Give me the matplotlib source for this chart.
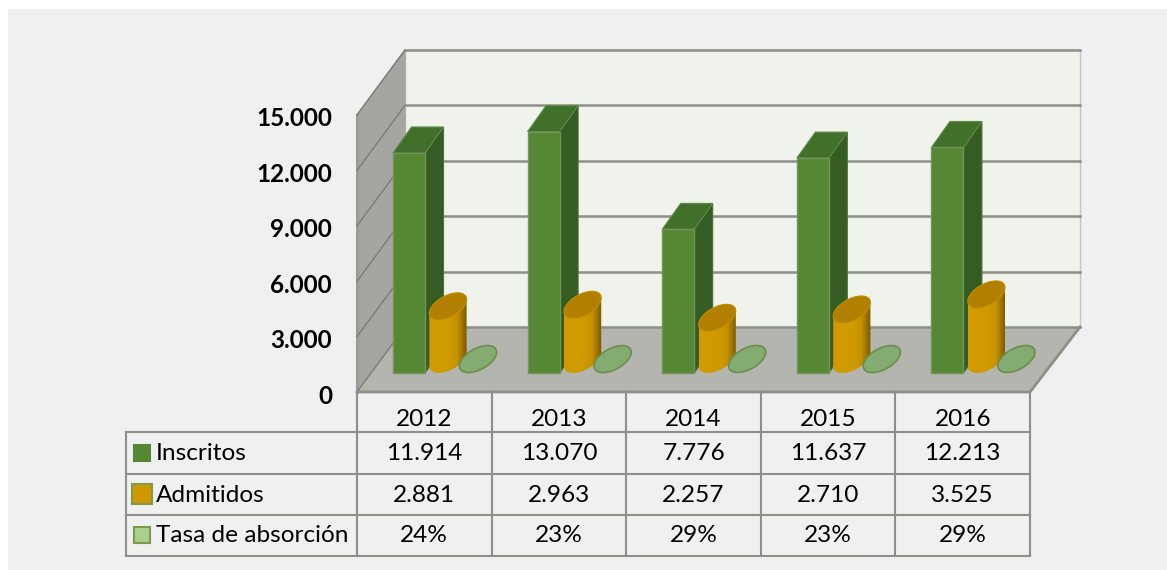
import numpy as np
import matplotlib
matplotlib.use('Agg')
import matplotlib.pyplot as plt
from matplotlib.colors import LinearSegmentedColormap
from matplotlib.patches import Polygon, Rectangle

plt.rcParams['font.family'] = ['Lato', 'DejaVu Sans']

# Datos
anios = ['2012', '2013', '2014', '2015', '2016']
inscritos = [11914, 13070, 7776, 11637, 12213]
admitidos = [2881, 2963, 2257, 2710, 3525]
tasa = [24, 23, 29, 23, 29]
ticks_y = [0, 3000, 6000, 9000, 12000, 15000]
series = ['Inscritos', 'Admitidos', 'Tasa de absorción']

# Geometria del grafico 3D (en pixeles de la imagen)
Y0 = 392
ESCALA = 277 / 15000
X_IZQ = 357
X_DER = 1030
ANCHO_CAT = (X_DER - X_IZQ) / len(anios)
DX, DY = 48, -65
FILAS_Y = [432, 474, 515, 556]
X_TABLA = 126
A_ELIPSE, B_ELIPSE, H_ELIPSE = 16, 9.5, 13.5


def y_px(valor):
    return Y0 - valor * ESCALA


def elipse(cx, cy, t=None):
    # elipse inscrita en el plano del suelo, inclinada por la perspectiva
    if t is None:
        t = np.linspace(0, 2 * np.pi, 60)
    x = cx + A_ELIPSE * np.cos(t) + B_ELIPSE * np.sin(t)
    y = cy - H_ELIPSE * np.sin(t)
    return np.column_stack([x, y])


fig = plt.figure(figsize=(11.67, 5.7), dpi=100, facecolor='white')
ax = fig.add_axes([0, 0, 1, 1])
ax.set_xlim(0, 1167)
ax.set_ylim(570, 0)
ax.axis('off')

# Fondo
ax.add_patch(Rectangle((8, 9), 1159, 561, fc='#f0f0f0', ec='none', zorder=0))

gris = '#8f8f8a'
# Pared del fondo
y_top = y_px(ticks_y[-1]) + DY
ax.add_patch(Polygon([(X_IZQ + DX, y_top), (X_DER + DX + 2, y_top),
                      (X_DER + DX + 2, Y0 + DY), (X_IZQ + DX, Y0 + DY)],
                     fc='#f0f2ec', ec='#c4c4c4', lw=1, zorder=1))
# Pared izquierda
ax.add_patch(Polygon([(X_IZQ, y_px(15000)), (X_IZQ + DX, y_top),
                      (X_IZQ + DX, Y0 + DY), (X_IZQ, Y0)],
                     fc='#a5a5a2', ec='#a5a5a2', lw=1, zorder=1))
ax.plot([X_IZQ, X_IZQ], [y_px(15000), Y0], color='#9a9a98', lw=2.2, zorder=1.2)
# Suelo
ax.add_patch(Polygon([(X_IZQ, Y0), (X_IZQ + DX, Y0 + DY),
                      (X_DER + DX + 2, Y0 + DY), (X_DER, Y0)],
                     fc='#b4b5af', ec='none', zorder=2))
ax.plot([X_IZQ, X_DER, X_DER + DX + 2], [Y0, Y0, Y0 + DY], color=gris, lw=2, zorder=3)

# Lineas de la cuadricula
for v in ticks_y:
    y = y_px(v)
    ax.plot([X_IZQ, X_IZQ + DX], [y, y + DY], color='#7f7f7c', lw=1.1,
            zorder=2.5 if v == 0 else 1.5)
    ax.plot([X_IZQ + DX, X_DER + DX + 2], [y + DY, y + DY], color=gris, lw=1.8,
            zorder=2.5 if v == 0 else 1.5)
    ax.text(332, y + 4, f'{v:,}'.replace(',', '.'), ha='right', va='center',
            fontsize=17.5, fontweight='bold', color='black')

# Barras
oro = LinearSegmentedColormap.from_list(
    'oro', [(0, '#d29c00'), (0.55, '#cf9a00'), (0.75, '#c59200'), (1, '#7d5c00')])
base = y_px(0) - 19
t0 = np.arctan2(B_ELIPSE, A_ELIPSE)
mitad_inf = np.linspace(t0 + np.pi, t0 + 2 * np.pi, 30)
mitad_sup = np.linspace(t0, t0 + np.pi, 30)
for i in range(len(anios)):
    izq = X_IZQ + ANCHO_CAT * i + 36
    z = 10 + i * 3

    # Inscritos: prisma
    ancho, fx, fy = 32, 18.5, -26
    arriba = base - inscritos[i] * ESCALA
    ax.add_patch(Polygon([(izq + ancho, base), (izq + ancho + fx, base + fy),
                          (izq + ancho + fx, arriba + fy), (izq + ancho, arriba)],
                         fc='#355c22', ec='#4e6e3c', lw=0.8, zorder=z))
    ax.add_patch(Polygon([(izq, arriba), (izq + fx, arriba + fy),
                          (izq + ancho + fx, arriba + fy), (izq + ancho, arriba)],
                         fc='#41702a', ec='#5f8a48', lw=0.8, zorder=z))
    ax.add_patch(Rectangle((izq, arriba), ancho, base - arriba, fc='#568732',
                           ec='#74935f', lw=1, zorder=z + 0.1))

    # Admitidos: cilindro con degradado
    cx = izq + 55
    cy_base = base - H_ELIPSE
    cy_top = cy_base - admitidos[i] * ESCALA
    contorno = np.vstack([elipse(cx, cy_base, mitad_inf), elipse(cx, cy_top, mitad_sup)])
    cuerpo = Polygon(contorno, fc='none', ec='none', zorder=z + 0.2)
    ax.add_patch(cuerpo)
    img = ax.imshow(np.linspace(0, 1, 32)[None, :],
                    extent=[contorno[:, 0].min(), contorno[:, 0].max(), base + 1, cy_top - 15],
                    aspect='auto', cmap=oro, interpolation='bilinear', zorder=z + 0.2)
    img.set_clip_path(cuerpo)
    ax.add_patch(Polygon(elipse(cx, cy_top), fc='#b27f00', ec='#c09000', lw=0.8, zorder=z + 0.3))

    # Tasa de absorcion: disco plano, apenas visible a la escala del eje
    ax.add_patch(Polygon(elipse(izq + 85, base - H_ELIPSE - tasa[i] * ESCALA),
                         fc='#84ab70', ec='#6c8c50', lw=1.2, zorder=z + 0.4))

ax.set_xlim(0, 1167)
ax.set_ylim(570, 0)

# Tabla de datos
for y in FILAS_Y:
    ax.plot([X_TABLA, X_DER], [y, y], color=gris, lw=1.5, zorder=3)
ax.plot([X_TABLA, X_TABLA], [FILAS_Y[0], FILAS_Y[-1]], color=gris, lw=1.5, zorder=3)
for i in range(len(anios) + 1):
    x = X_IZQ + ANCHO_CAT * i
    ax.plot([x, x], [Y0, FILAS_Y[-1]], color=gris, lw=1.5, zorder=3)

filas = [anios,
         [f'{v:,}'.replace(',', '.') for v in inscritos],
         [f'{v:,}'.replace(',', '.') for v in admitidos],
         [f'{v}%' for v in tasa]]
centros_y = [419, 454, 495, 536]
for fila, cy in zip(filas, centros_y):
    for i, txt in enumerate(fila):
        ax.text(X_IZQ + ANCHO_CAT * (i + 0.5), cy, txt, ha='center', va='center',
                fontsize=17.6, color='black')

# Leyenda
filas_centro = [453, 494, 535]
estilos = [('#568732', '#568732', 134, 16),
           ('#cf9a00', '#7f9a50', 132, 20),
           ('#a9d18e', '#7f9a50', 134, 16)]
for nombre, cy, (fc, ec, x, lado) in zip(series, filas_centro, estilos):
    ax.add_patch(Rectangle((x, cy - lado / 2), lado, lado, fc=fc, ec=ec, lw=1.5, zorder=4))
    ax.text(156, cy + 1, nombre, ha='left', va='center', fontsize=17.6, color='black')

fig.savefig('out.png', dpi=100, facecolor='white')
